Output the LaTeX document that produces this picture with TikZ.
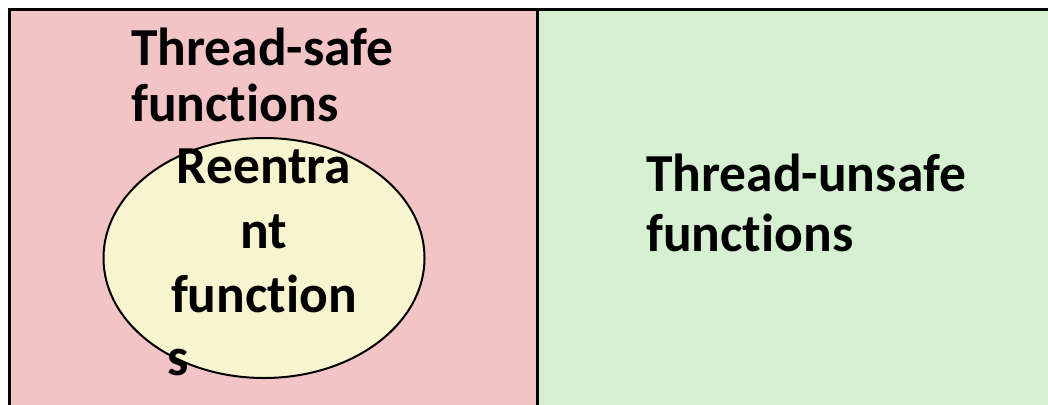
\documentclass[tikz,border=0pt]{standalone}
\usepackage{fontspec}
\setmainfont{Carlito}[Ligatures=NoCommon]
\usetikzlibrary{shapes.geometric}

\definecolor{safefill}{HTML}{F2C4C6}
\definecolor{unsafefill}{HTML}{D6F0D2}
\definecolor{reentfill}{HTML}{F6F5D0}

\tikzset{
  label text/.style = {font=\bfseries\fontsize{53.5}{64}\selectfont, inner sep=0pt},
}

\begin{document}
\begin{tikzpicture}[x=1pt, y=-1pt]
\useasboundingbox (0,0) rectangle (1048,404);

%boxes
\draw[line width=3pt, fill=safefill] (9,10) rectangle (537,430);
\draw[line width=3pt, fill=unsafefill] (537,10) rectangle (1070,430);

%reentrant set
\node[ellipse, draw, line width=2pt, fill=reentfill, minimum width=321pt, minimum height=240pt] (reent) at (264,258) {};

%labels
\node[label text, anchor=base west] (safe1) at (131,65) {Thread-safe};
\node[label text, anchor=base west] (safe2) at (131,121) {functions};
\node[label text, anchor=base west] (unsafe1) at (646,191) {Thread-unsafe};
\node[label text, anchor=base west] (unsafe2) at (646,251) {functions};
\node[label text, anchor=base] (reent1) at (264,183) {Reentra};
\node[label text, anchor=base] (reent2) at (264,248) {nt};
\node[label text, anchor=base] (reent3) at (264,312) {function};
\node[label text, anchor=base west] (reent4) at (167,375) {s};
\end{tikzpicture}
\end{document}
